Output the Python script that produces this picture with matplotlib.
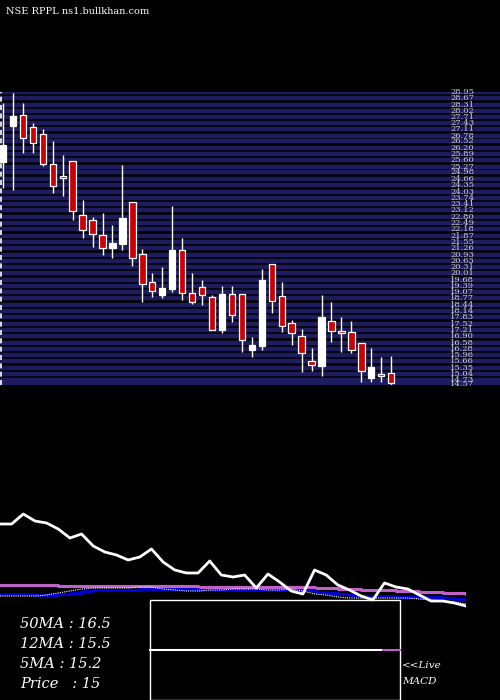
import matplotlib

matplotlib.use("Agg")
import matplotlib.pyplot as plt
from matplotlib.patches import Rectangle

# ---- candle data
opens  = [25.50, 27.27, 27.82, 27.22, 26.88, 25.40, 24.81, 25.55, 22.89, 22.64,
          21.90, 21.26, 21.46, 23.53, 20.96, 19.58, 18.94, 19.24, 21.16, 19.04,
          19.34, 18.84, 17.22, 18.99, 18.99, 16.23, 16.43, 20.47, 18.89, 17.56,
          16.92, 15.69, 15.44, 17.66, 17.17, 17.12, 16.58, 14.85, 15.05, 15.10]
highs  = [28.41, 28.90, 28.41, 27.42, 27.13, 26.53, 25.84, 25.55, 23.63, 22.79,
          22.98, 22.39, 25.35, 23.53, 21.21, 20.03, 20.32, 23.33, 21.75, 20.03,
          19.68, 18.94, 19.39, 19.39, 18.99, 16.87, 20.22, 20.47, 19.58, 17.71,
          17.27, 16.33, 18.94, 18.60, 17.86, 17.66, 16.58, 16.33, 15.89, 15.94]
lows   = [24.22, 24.12, 25.94, 25.94, 25.30, 23.97, 23.82, 22.64, 21.75, 21.31,
          20.91, 20.77, 21.16, 20.37, 18.60, 18.84, 18.79, 19.09, 18.70, 18.50,
          18.45, 17.22, 17.07, 17.61, 16.13, 15.89, 16.23, 18.05, 17.12, 16.48,
          15.15, 15.20, 14.95, 16.62, 16.13, 16.08, 14.65, 14.65, 14.65, 14.45]
closes = [26.34, 27.77, 26.68, 26.44, 25.40, 24.32, 24.71, 23.08, 22.15, 21.95,
          21.26, 21.51, 22.74, 20.77, 19.48, 19.14, 19.29, 21.16, 19.04, 18.60,
          18.94, 17.22, 18.99, 17.96, 16.72, 16.48, 19.68, 18.65, 17.42, 17.07,
          16.08, 15.49, 17.86, 17.17, 17.07, 16.23, 15.20, 15.39, 14.95, 14.60]

# price levels drawn as the striped grid with their (overlapping) labels
levels = [28.95, 28.67, 28.31, 28.02, 27.71, 27.43, 27.11, 26.78, 26.52, 26.20,
          25.89, 25.60, 25.27, 24.98, 24.66, 24.35, 24.03, 23.74, 23.41, 23.12,
          22.80, 22.49, 22.18, 21.87, 21.55, 21.26, 20.93, 20.63, 20.31, 20.01,
          19.68, 19.39, 19.07, 18.77, 18.44, 18.14, 17.83, 17.52, 17.21, 16.90,
          16.58, 16.28, 15.96, 15.66, 15.35, 15.04, 14.73, 14.57]

# ---- indicator panel series (arbitrary units)
price_line = [96, 96, 106, 99, 97, 91, 82, 86, 74, 68, 65, 60, 63, 71, 58, 50, 47,
              47, 59, 45, 43, 45, 32, 46, 38, 29, 26, 50, 45, 35, 30, 24, 20, 37,
              33, 31, 25, 19, 19, 17, 14]
ma50 = [35, 35, 35, 35, 35, 34, 34, 34, 34, 34, 34, 34, 34, 34, 34, 34, 34, 33,
        33, 33, 33, 33, 33, 33, 33, 33, 33, 32, 32, 31, 31, 30, 30, 30, 29, 29,
        28, 28, 27, 27, 26]
ma12 = [26, 26, 26, 25, 25, 26, 27, 29, 30, 30, 30, 30, 31, 31, 31, 31, 31, 30,
        30, 30, 30, 30, 30, 30, 30, 30, 30, 28, 27, 26, 25, 24, 24, 24, 23, 23,
        23, 23, 22, 21, 20]
ma5 = [24, 24, 24, 24, 25, 27, 29, 31, 32, 32, 32, 32, 33, 33, 31, 30, 29, 29,
       30, 30, 31, 31, 31, 30, 30, 31, 29, 26, 25, 23, 22, 22, 22, 22, 22, 22,
       21, 20, 19, 18, 16]

BG = "black"
fig = plt.figure(figsize=(5, 7), dpi=100, facecolor=BG)

# price panel: figure pixel y 92..385, full width (candles occupy 0..440)
ax = fig.add_axes([0, 1 - 385 / 700, 1, 293 / 700], facecolor=BG)
ax.set_xlim(-0.3, -0.3 + 44.2 * 500 / 440)
ax.set_ylim(14.5, 28.95)
for lv in levels:
    ax.axhline(lv, color="#1c1c5e", lw=3.2, zorder=0)
    ax.text(450 / 500, lv, f"{lv:.2f}", transform=ax.get_yaxis_transform(),
            color="#d0d0d0", fontsize=6, family="DejaVu Serif", va="center",
            clip_on=False)
ax.axvline(-0.2, color="white", lw=1.2, ls=(0, (3, 2)))

for i, (o, h, l, c) in enumerate(zip(opens, highs, lows, closes)):
    ax.vlines(i, l, h, color="white", lw=1, zorder=2)
    lo, hi = min(o, c), max(o, c)
    col = "white" if c >= o else "#cc0000"
    ax.add_patch(Rectangle((i - 0.32, lo), 0.64, max(hi - lo, 0.06),
                           facecolor=col, edgecolor="white", lw=0.9, zorder=3))
ax.axis("off")

# indicator panel: pixel y 500..620, x 0..466
ax2 = fig.add_axes([0, 1 - 620 / 700, 466 / 500, 120 / 700], facecolor="none")
ax2.set_xlim(0, 40)
ax2.set_ylim(0, 120)
xs = range(len(price_line))
ax2.step(xs, ma50, where="post", color="#c060c8", lw=2.2)
ax2.step(xs, ma12, where="post", color="#0000dd", lw=2)
ax2.plot(xs, ma5, color="white", lw=0.8, ls=(0, (1, 1)))
ax2.plot(xs, price_line, color="white", lw=2)
ax2.axis("off")

# overlay in pixel coords
ov = fig.add_axes([0, 0, 1, 1], facecolor="none")
ov.set_xlim(0, 500)
ov.set_ylim(700, 0)
ov.axis("off")
ov.text(6, 12, "NSE RPPL ns1.bullkhan.com", color="white", fontsize=7,
        family="DejaVu Serif", va="center")
ov.add_patch(Rectangle((150, 600), 250, 100, fill=False, edgecolor="white", lw=1))
ov.plot([150, 383], [650, 650], color="white", lw=1.5)
ov.plot([383, 400], [650, 650], color="#c060c8", lw=1.5)
for yy, t in [(624, "50MA : 16.5"), (644, "12MA : 15.5"),
              (664, "5MA : 15.2"), (684, "Price   : 15")]:
    ov.text(20, yy, t, color="white", fontsize=10.5, family="DejaVu Serif",
            style="italic", va="center")
ov.text(402, 666, "<<Live", color="white", fontsize=7.5, family="DejaVu Serif",
        style="italic", va="center")
ov.text(402, 681, "MACD", color="white", fontsize=7.5, family="DejaVu Serif",
        style="italic", va="center")

fig.savefig("out.png", dpi=100, facecolor=BG)
